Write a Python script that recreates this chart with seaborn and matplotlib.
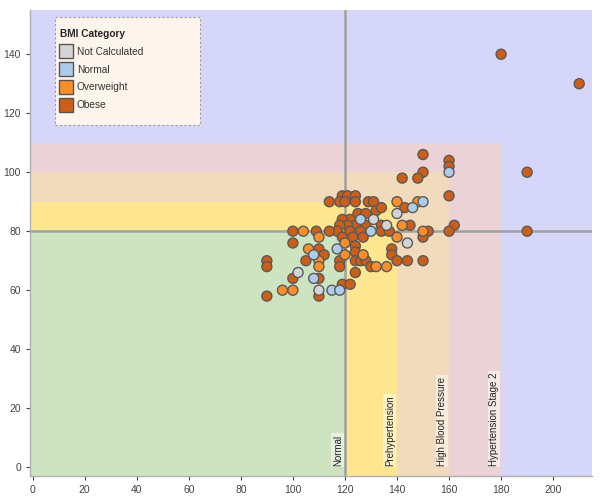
import matplotlib
matplotlib.use("Agg")
import matplotlib.pyplot as plt
import seaborn as sns
import pandas as pd
from matplotlib.patches import Rectangle
from matplotlib.lines import Line2D

# ---- data ----
obese_sys = [180, 210, 190, 190, 150, 160, 160, 150, 148, 142, 160, 162, 160,
             119, 121, 124, 118, 120, 124, 114, 129, 131,
             143, 132, 134, 125, 128, 122, 119,
             128, 124, 121, 118, 134, 145,
             117, 114, 122, 126, 134, 137, 152, 150,
             119, 123, 127,
             100, 109, 100, 110, 112, 105, 118, 118,
             124, 124, 124, 126, 128, 130, 124,
             138, 138, 140, 144, 150,
             100, 110, 110, 119, 122,
             90, 90, 90]
obese_dia = [140, 130, 100, 80, 106, 104, 102, 100, 98, 98, 92, 82, 80,
             92, 92, 92, 90, 90, 90, 90, 90, 90,
             88, 87, 88, 86, 86, 84, 84,
             82, 82, 82, 82, 82, 82,
             80, 80, 80, 80, 80, 80, 80, 78,
             78, 78, 78,
             80, 80, 76, 74, 72, 70, 70, 68,
             75, 73, 70, 70, 70, 68, 66,
             74, 72, 70, 70, 70,
             64, 64, 58, 62, 62,
             70, 68, 58]
over_sys = [140, 148, 142, 150, 140, 104, 110, 106, 110, 120, 127, 110, 132, 136, 96, 100, 120]
over_dia = [90, 90, 82, 80, 78, 80, 78, 74, 70, 72, 72, 68, 68, 68, 60, 60, 76]
norm_sys = [160, 146, 150, 126, 130, 108, 117, 108, 115, 118]
norm_dia = [100, 88, 90, 84, 80, 72, 74, 64, 60, 60]
nc_sys = [140, 131, 136, 144, 102, 110]
nc_dia = [86, 84, 82, 76, 66, 60]

categories = ["Not Calculated", "Normal", "Overweight", "Obese"]
cat_colors = ["#d4d4d4", "#aecbe8", "#f98e2b", "#cc5e17"]

band_labels = ["Normal", "Prehypertension", "High Blood Pressure", "Hypertension Stage 2"]
band_sys = [120, 140, 160, 180]
band_dia = [80, 90, 100, 110]
band_colors = ["#cee4c1", "#fde68f", "#f2dbbc", "#ebd2d6"]
outer_color = "#d6d6fb"

x_ticks = [0, 20, 40, 60, 80, 100, 120, 140, 160, 180, 200]
y_ticks = [0, 20, 40, 60, 80, 100, 120, 140]

rows = []
for c, xs, ys in [("Not Calculated", nc_sys, nc_dia), ("Normal", norm_sys, norm_dia),
                  ("Overweight", over_sys, over_dia), ("Obese", obese_sys, obese_dia)]:
    for a, b in zip(xs, ys):
        rows.append({"Systolic": a, "Diastolic": b, "BMI Category": c})
df = pd.DataFrame(rows)
order = {"Obese": 0, "Overweight": 1, "Not Calculated": 2, "Normal": 3}
df = df.sort_values("BMI Category", key=lambda s: s.map(order), kind="stable")

# ---- plot ----
sns.set_style("white")
plt.rcParams["font.family"] = ["Liberation Sans", "DejaVu Sans"]
fig = plt.figure(figsize=(6.0, 4.99), dpi=100)
ax = fig.add_axes([0.050, 0.046, 0.937, 0.934])

xmin, xmax, ymin, ymax = -1, 215, -3, 155
ax.set_xlim(xmin, xmax)
ax.set_ylim(ymin, ymax)

ax.add_patch(Rectangle((xmin, ymin), xmax - xmin, ymax - ymin, facecolor=outer_color,
                       edgecolor="none", zorder=0))
for sx, dy, col in sorted(zip(band_sys, band_dia, band_colors), reverse=True):
    ax.add_patch(Rectangle((xmin, ymin), sx - xmin, dy - ymin, facecolor=col,
                           edgecolor="none", zorder=0.1))

ax.axvline(band_sys[0], color="#a0a0a0", lw=1.8, zorder=1)
ax.axhline(band_dia[0], color="#a0a0a0", lw=1.8, zorder=1)

for lab, sx in zip(band_labels, band_sys):
    ax.text(sx - 0.8, 0.5, lab, rotation=90, ha="right", va="bottom", fontsize=7,
            color="#222222", zorder=1.5,
            bbox=dict(boxstyle="square,pad=0.15", facecolor="white", alpha=0.5, edgecolor="none"))

sns.scatterplot(data=df, x="Systolic", y="Diastolic", hue="BMI Category",
                hue_order=categories, palette=cat_colors, s=52,
                edgecolor="#5a5a5a", linewidth=1.0, alpha=1.0, legend=False,
                ax=ax, zorder=3)

ax.set_xticks(x_ticks)
ax.set_yticks(y_ticks)
ax.set_xlabel("")
ax.set_ylabel("")
ax.tick_params(axis="both", labelsize=7.5, colors="#444444", length=3, width=0.8,
               direction="out", bottom=True, left=True)
for side in ["top", "right"]:
    ax.spines[side].set_visible(False)
for side in ["left", "bottom"]:
    ax.spines[side].set_color("#b0b0b0")
    ax.spines[side].set_linewidth(1.0)

# legend box
ax.add_patch(Rectangle((8.5, 116), 56, 36.5, facecolor="#fdf4ec", edgecolor="#999999",
                       linestyle=(0, (2, 2)), lw=0.8, zorder=4))
handles = [Line2D([0], [0], marker="s", linestyle="none", markersize=9.5,
                  markerfacecolor=c, markeredgecolor="#555555", markeredgewidth=1.0)
           for c in cat_colors]
leg = ax.legend(handles, categories, title="BMI Category", loc="upper left",
                bbox_to_anchor=(0.041, 0.975), frameon=False, fontsize=7.3,
                title_fontproperties={"weight": "bold", "size": 7.3},
                handletextpad=0.55, labelspacing=0.78, borderpad=0.2, handlelength=1.1,
                alignment="left")
leg.set_zorder(5)
for t in leg.get_texts():
    t.set_color("#333333")

fig.savefig("out.png", dpi=100, facecolor="white")
